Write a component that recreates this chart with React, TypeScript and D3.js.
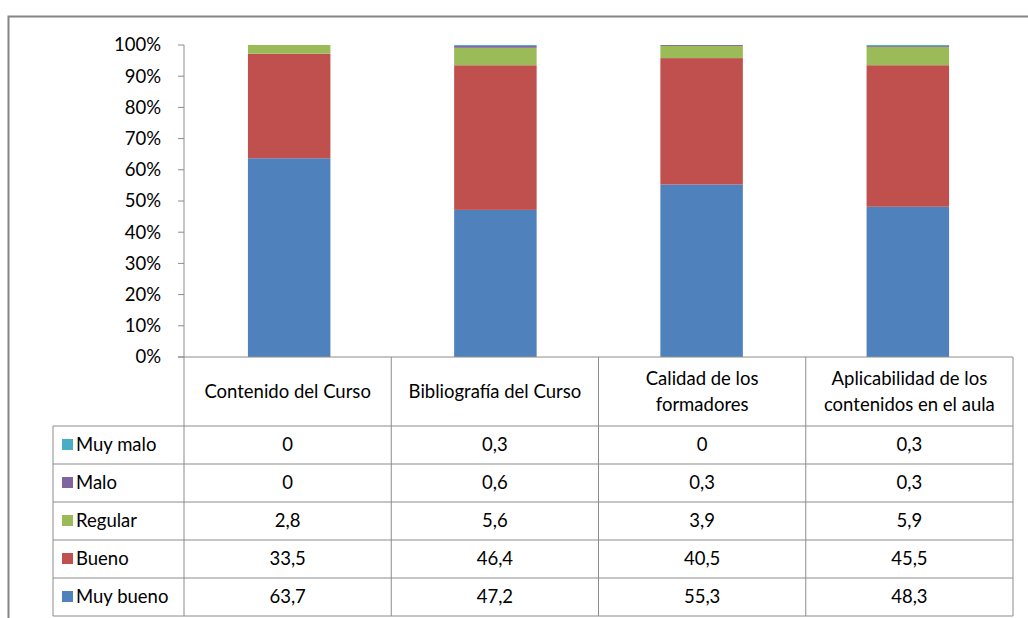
import React from 'react';
import * as d3 from 'd3';

const categories = [
  ['Contenido del Curso'],
  ['Bibliografía del Curso'],
  ['Calidad de los', 'formadores'],
  ['Aplicabilidad de los', 'contenidos en el aula'],
];

const seriesNames = ['Muy malo', 'Malo', 'Regular', 'Bueno', 'Muy bueno'];
const seriesColors = ['#4BACC6', '#8064A2', '#9BBB59', '#C0504D', '#4F81BD'];

const muyMalo = [0, 0.3, 0, 0.3];
const malo = [0, 0.6, 0.3, 0.3];
const regular = [2.8, 5.6, 3.9, 5.9];
const bueno = [33.5, 46.4, 40.5, 45.5];
const muyBueno = [63.7, 47.2, 55.3, 48.3];

const seriesValues = [muyMalo, malo, regular, bueno, muyBueno];
const yTicks = [0, 0.1, 0.2, 0.3, 0.4, 0.5, 0.6, 0.7, 0.8, 0.9, 1];

const fmt = (v: number) => String(v).replace('.', ',');

const App: React.FC = () => {
  const width = 1028;
  const height = 618;
  const font = 'Lato, "Open Sans", sans-serif';

  const plotLeft = 184;
  const plotRight = 1013;
  const plotTop = 45;
  const plotBottom = 357;
  const tableLeft = 53;
  const headerBottom = 426;
  const rowH = 38;

  const x = d3.scaleBand<number>()
    .domain(categories.map((_, i) => i))
    .range([plotLeft, plotRight])
    .paddingInner(0.6)
    .paddingOuter(0.31);
  const band = d3.scaleBand<number>()
    .domain(categories.map((_, i) => i))
    .range([plotLeft, plotRight]);
  const y = d3.scaleLinear().domain([0, 1]).range([plotBottom, plotTop]);

  // stack bottom-up: Muy bueno first
  const keys = [4, 3, 2, 1, 0];
  const rows = categories.map((_, ci) => {
    const r: Record<string, number> = {};
    const total = d3.sum(seriesValues, s => s[ci]);
    keys.forEach(k => { r[k] = seriesValues[k][ci] / total; });
    return r;
  });
  const stacked = d3.stack<Record<string, number>>().keys(keys.map(String))(rows);

  const colEdges = [plotLeft, ...categories.map((_, i) => (band(i) as number) + band.bandwidth())];
  const lineColor = '#8c8c8c';
  const fs = 18.5;

  return (
    <svg width={width} height={height} style={{ position: 'absolute', left: 0, top: 0 }}>
      <rect x={0} y={0} width={width} height={height} fill="#fff" />
      {/* outer frame */}
      <path d={`M8.5,${height} V16.5 H${width}`} fill="none" stroke="#868686" strokeWidth={2} />

      {/* bars */}
      {stacked.map(layer => (
        <g key={layer.key} fill={seriesColors[+layer.key]}>
          {layer.map((d, i) => (
            <rect key={i} x={x(i)} width={x.bandwidth()} y={y(d[1])} height={Math.max(0, y(d[0]) - y(d[1]))} />
          ))}
        </g>
      ))}

      {/* y axis */}
      <line x1={plotLeft} x2={plotLeft} y1={plotTop} y2={plotBottom} stroke={lineColor} />
      {yTicks.map(t => (
        <g key={t}>
          <line x1={plotLeft - 6} x2={plotLeft} y1={y(t)} y2={y(t)} stroke={lineColor} />
          <text x={161} y={y(t)} dy="0.35em" textAnchor="end" fontFamily={font} fontSize={fs} fill="#000">
            {d3.format('.0%')(t)}
          </text>
        </g>
      ))}

      {/* data table */}
      <g stroke={lineColor} strokeWidth={1} fill="none">
        <line x1={plotLeft - 6} x2={plotRight} y1={plotBottom} y2={plotBottom} />
        {colEdges.map((cx, i) => (
          <line key={i} x1={cx} x2={cx} y1={plotBottom} y2={headerBottom + rowH * seriesNames.length} />
        ))}
        <line x1={tableLeft} x2={tableLeft} y1={headerBottom} y2={headerBottom + rowH * seriesNames.length} />
        {d3.range(seriesNames.length + 1).map(r => (
          <line key={r} x1={tableLeft} x2={plotRight} y1={headerBottom + r * rowH} y2={headerBottom + r * rowH} />
        ))}
      </g>

      {categories.map((lines, i) => {
        const cx = (band(i) as number) + band.bandwidth() / 2;
        const cy = (plotBottom + headerBottom) / 2;
        return (
          <text key={i} x={cx} textAnchor="middle" fontFamily={font} fontSize={fs} fill="#000">
            {lines.map((l, j) => (
              <tspan key={j} x={cx} y={cy + (j - (lines.length - 1) / 2) * 26} dy="0.35em">{l}</tspan>
            ))}
          </text>
        );
      })}

      {seriesNames.map((name, r) => {
        const cy = headerBottom + r * rowH + rowH / 2;
        return (
          <g key={name}>
            <rect x={62} y={cy - 6} width={11} height={11} fill={seriesColors[r]} />
            <text x={76} y={cy} dy="0.35em" fontFamily={font} fontSize={fs} fill="#000">{name}</text>
            {seriesValues[r].map((v, i) => (
              <text key={i} x={(band(i) as number) + band.bandwidth() / 2} y={cy} dy="0.35em"
                textAnchor="middle" fontFamily={font} fontSize={fs} fill="#000">{fmt(v)}</text>
            ))}
          </g>
        );
      })}
    </svg>
  );
};

export default App;
